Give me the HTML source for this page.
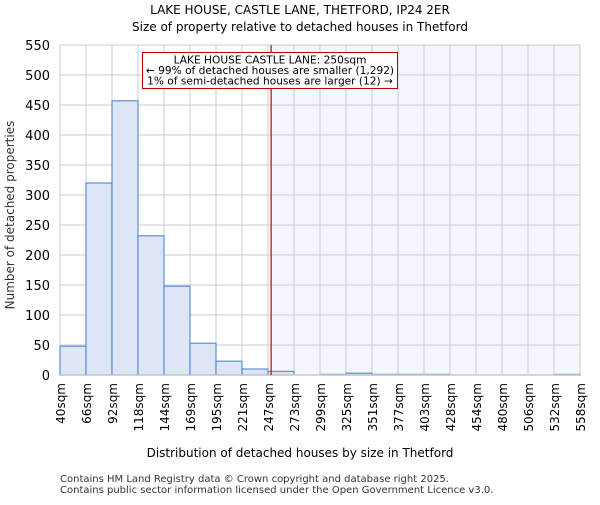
<!DOCTYPE html>
<html><head><meta charset="utf-8"><style>
body{margin:0;background:#fff;}
svg{font-family:"DejaVu Sans","Liberation Sans",sans-serif;}
</style></head><body>
<svg id="chart" width="600" height="500" xmlns="http://www.w3.org/2000/svg">
<text x="300" y="14" text-anchor="middle" font-size="12" fill="#000">LAKE HOUSE, CASTLE LANE, THETFORD, IP24 2ER</text>
<text x="300" y="31" text-anchor="middle" font-size="12" fill="#000">Size of property relative to detached houses in Thetford</text>
<g id="grid"></g><g id="bars"></g><g id="axes"></g>
<text x="300" y="457" text-anchor="middle" font-size="12" fill="#000">Distribution of detached houses by size in Thetford</text>
<text transform="translate(14,215) rotate(-90)" text-anchor="middle" font-size="12" fill="#333">Number of detached properties</text>
<text x="60" y="482" font-size="10" fill="#333">Contains HM Land Registry data © Crown copyright and database right 2025.</text>
<text x="60" y="493" font-size="10" fill="#333">Contains public sector information licensed under the Open Government Licence v3.0.</text>
</svg>
<script>
const categories=["40sqm","66sqm","92sqm","118sqm","144sqm","169sqm","195sqm","221sqm","247sqm","273sqm","299sqm","325sqm","351sqm","377sqm","403sqm","428sqm","454sqm","480sqm","506sqm","532sqm","558sqm"];
const counts=[48,320,457,232,148,53,23,10,6,0,1,3,1,1,1,0,0,0,0,1];
const yTicks=[0,50,100,150,200,250,300,350,400,450,500,550];
const markerBin=8.12;
const NS="http://www.w3.org/2000/svg";
const L=60,R=580,T=45,B=375,yMax=550;
const nb=counts.length;
function xs(i){return L+(R-L)*i/nb;}
function ys(v){return B-(B-T)*v/yMax;}
function mk(tag,attrs,parent){const e=document.createElementNS(NS,tag);for(const k in attrs)e.setAttribute(k,attrs[k]);parent.appendChild(e);return e;}
const grid=document.getElementById('grid'),bars=document.getElementById('bars'),axes=document.getElementById('axes');
const mx=xs(markerBin);
let sh=mk('rect',{x:mx,y:T,width:R-mx,height:B-T,fill:'#f3f6fd'},grid);


for(let i=0;i<=nb;i++){mk('line',{x1:xs(i),x2:xs(i),y1:T,y2:B,stroke:'#cccccc','stroke-width':1},grid);}
yTicks.forEach(v=>{mk('line',{x1:L,x2:R,y1:ys(v),y2:ys(v),stroke:'#cccccc','stroke-width':1},grid);
 const t=mk('text',{x:L-10,y:ys(v)+5,'text-anchor':'end','font-size':13,fill:'#000'},axes);t.textContent=v;
 
 });
counts.forEach((c,i)=>{if(c<=0)return;const r=mk('rect',{x:xs(i),y:ys(c),width:xs(i+1)-xs(i),height:B-ys(c),fill:'#dce6f4',stroke:'#5b8fd6','stroke-width':1.2},bars);
 
 });
mk('line',{x1:L,x2:R,y1:B,y2:B,stroke:'#cccccc','stroke-width':1.5},axes);
categories.forEach((c,i)=>{const x=xs(i);const t=mk('text',{transform:`translate(${x+5},${B+8}) rotate(-90)`,'text-anchor':'end','font-size':12,fill:'#000'},axes);t.textContent=c;
 
 });
const ml=mk('line',{x1:mx,x2:mx,y1:T,y2:B,stroke:'#c00000','stroke-width':1.2},axes);


const bx=mk('rect',{x:142.5,y:52.5,width:255,height:36,fill:'#fff',stroke:'#c00000','stroke-width':1},axes);


["LAKE HOUSE CASTLE LANE: 250sqm","← 99% of detached houses are smaller (1,292)","1% of semi-detached houses are larger (12) →"].forEach((s,k)=>{
 const t=mk('text',{x:270,y:63.5+k*10.5,'text-anchor':'middle','font-size':10.6,fill:'#000'},axes);t.textContent=s;
 
 });
</script>
</body></html>
